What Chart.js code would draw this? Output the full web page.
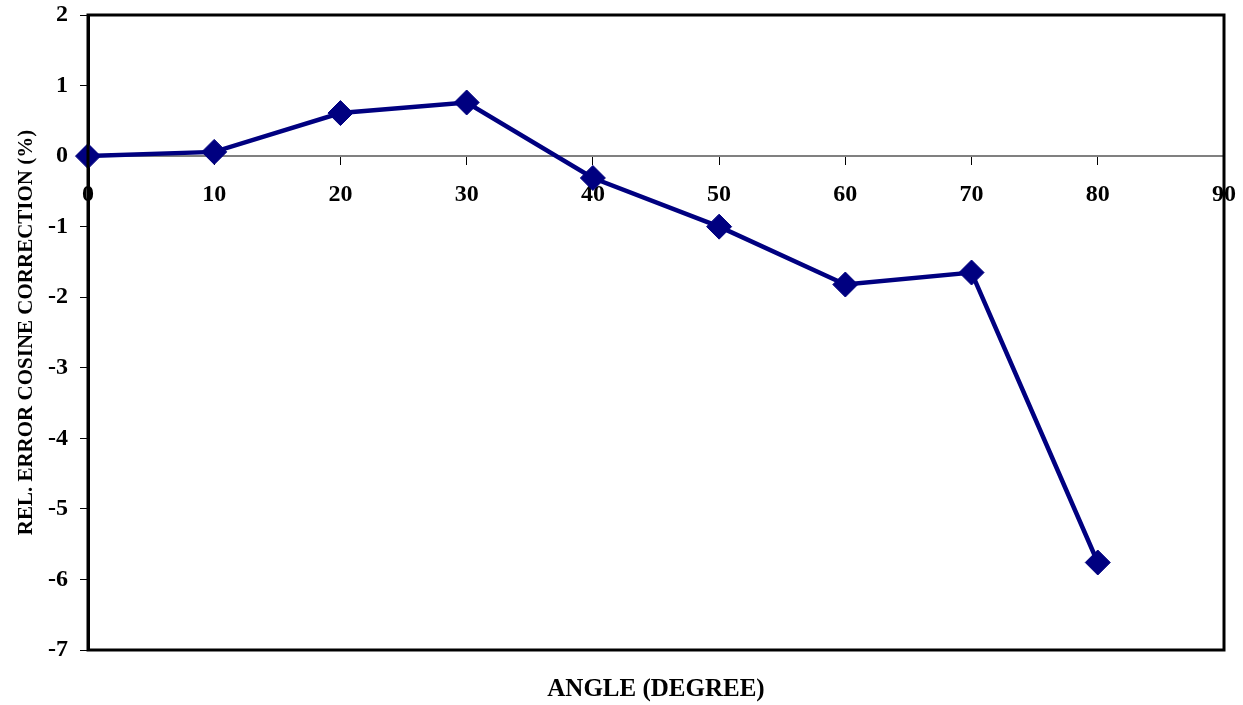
<!DOCTYPE html>
<html>
<head>
<meta charset="utf-8">
<script src="https://cdn.jsdelivr.net/npm/chart.js@4.4.0/dist/chart.umd.min.js"></script>
<style>
    html, body { margin: 0; padding: 0; background: #fff; }
    #wrap { width: 1243px; height: 705px; }
</style>
</head>
<body>
<div id="wrap"><canvas id="cosChart"></canvas></div>
<script>
    // ===============================================
    // Data
    // ===============================================
    const angles = [0, 10, 20, 30, 40, 50, 60, 70, 80];
    const relError = [0, 0.06, 0.61, 0.76, -0.31, -1.0, -1.82, -1.65, -5.76];
    const yTicks = [2, 1, 0, -1, -2, -3, -4, -5, -6, -7];

    const serif = 'Liberation Serif, Times New Roman, serif';

    // plot frame
    const frameBox = {
        id: 'frameBox',
        afterDraw(chart) {
            const a = chart.chartArea;
            const c = chart.ctx;
            c.save();
            c.strokeStyle = '#000';
            c.lineWidth = 3;
            c.strokeRect(a.left, a.top, a.right - a.left, a.bottom - a.top);
            c.restore();
        }
    };

    const ctx = document.getElementById('cosChart').getContext('2d');
    new Chart(ctx, {
        type: 'line',
        data: {
            datasets: [{
                data: angles.map((a, i) => ({ x: a, y: relError[i] })),
                borderColor: '#000080',
                backgroundColor: '#000080',
                borderWidth: 4.5,
                tension: 0,
                pointStyle: 'rectRot',
                pointRadius: 12.5,
                pointBorderWidth: 1,
                pointBorderColor: '#000080',
                pointBackgroundColor: '#000080',
                clip: false
            }]
        },
        options: {
            responsive: true,
            maintainAspectRatio: false,
            animation: false,
            layout: { padding: { left: 0, top: 15, right: 19, bottom: 0 } },
            plugins: {
                legend: { display: false },
                tooltip: { enabled: false }
            },
            scales: {
                x: {
                    type: 'linear',
                    min: 0,
                    max: 90,
                    position: { y: 0 },
                    ticks: {
                        stepSize: 10,
                        padding: 16,
                        color: '#000',
                        font: { family: serif, size: 24, weight: 'bold' }
                    },
                    grid: { drawOnChartArea: false, tickLength: 8, color: '#000', lineWidth: 1 },
                    border: { color: '#808080', width: 2 },
                    afterFit(scale) { scale.paddingLeft = 0; scale.paddingRight = 0; }
                },
                x2: {
                    type: 'linear',
                    position: 'bottom',
                    ticks: { display: false },
                    grid: { display: false },
                    border: { display: false },
                    title: {
                        display: true,
                        text: 'ANGLE (DEGREE)',
                        color: '#000',
                        font: { family: serif, size: 25, weight: 'bold' },
                        padding: { top: 0, bottom: 0 }
                    },
                    afterFit(scale) { scale.height = 55; scale.paddingLeft = 0; scale.paddingRight = 0; }
                },
                y: {
                    type: 'linear',
                    min: -7,
                    max: 2,
                    position: 'left',
                    afterBuildTicks(scale) { scale.ticks = yTicks.map(v => ({ value: v })); },
                    ticks: {
                        padding: 12,
                        color: '#000',
                        font: { family: serif, size: 24, weight: 'bold' }
                    },
                    grid: { drawOnChartArea: false, tickLength: 8, color: '#000', lineWidth: 1 },
                    border: { color: '#000', width: 3 },
                    title: {
                        display: true,
                        text: 'REL. ERROR COSINE CORRECTION (%)',
                        color: '#000',
                        font: { family: serif, size: 21, weight: 'bold' },
                        padding: { top: 14, bottom: 0 }
                    },
                    afterFit(scale) { scale.width = 88; scale.paddingTop = 0; scale.paddingBottom = 0; }
                }
            }
        },
        plugins: [frameBox]
    });
</script>
</body>
</html>
